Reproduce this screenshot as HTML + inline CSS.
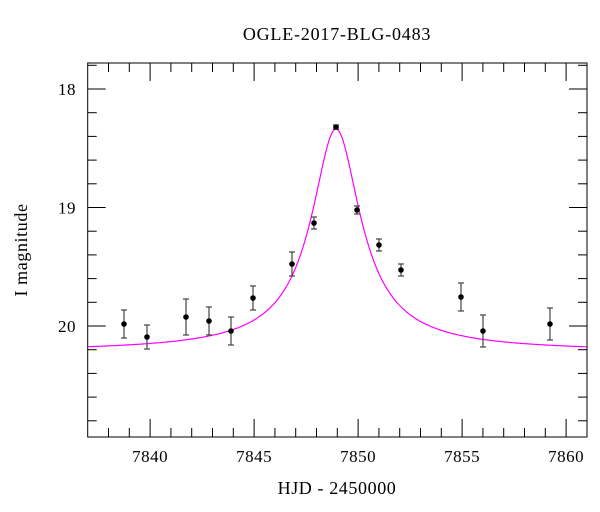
<!DOCTYPE html>
<html><head><style>
body{margin:0;background:#fff;}
svg{display:block;font-family:"Liberation Serif","DejaVu Serif",serif;}
</style></head><body>
<svg id="s" width="600" height="512" xmlns="http://www.w3.org/2000/svg">
<text x="337" y="40" font-size="18" letter-spacing="0.8" text-anchor="middle">OGLE-2017-BLG-0483</text>
<text x="337" y="494" font-size="18" letter-spacing="0.6" text-anchor="middle">HJD - 2450000</text>
<text transform="translate(27,250) rotate(-90)" font-size="18" letter-spacing="0.6" text-anchor="middle">I magnitude</text>
<g id="ax" stroke="#000" stroke-width="1" fill="none"></g>
<g id="lab" font-size="17" letter-spacing="0.5" text-anchor="middle"></g>
<path id="curve" fill="none" stroke="#ff00ff" stroke-width="1.2"/>
<g id="pts"></g>
</svg>
<script>
var L=87.7,R=587,T=63,B=437;
var ax=document.getElementById('ax'),lab=document.getElementById('lab');
function ln(x1,y1,x2,y2){return '<line x1="'+x1+'" y1="'+y1+'" x2="'+x2+'" y2="'+y2+'"/>';}
var h='<rect x="'+L+'" y="'+T+'" width="'+(R-L)+'" height="'+(B-T)+'"/>';
var lt='';
function X(d){return L+(d-7837)*20.8;}
for(var d=7838;d<=7860;d++){var x=X(d);var big=d%5==0;var len=big?18:9;
h+=ln(x,B,x,B-len)+ln(x,T,x,T+len);
if(big)lt+='<text x="'+x+'" y="462">'+d+'</text>';}
function Y(m){return 89+(m-18)*118.5;}
for(var i=-1;i<=15;i++){var m=18+i*0.2;var y=Y(m);if(y<T+1||y>B-1)continue;
var big=(i%5==0);var len=big?18:9;
h+=ln(L,y,L+len,y)+ln(R,y,R-len,y);
if(big)lt+='<text x="67" y="'+(y+6)+'">'+Math.round(m)+'</text>';}
ax.innerHTML=h;lab.innerHTML=lt;
var p='';
for(var x=L;x<=R;x+=1){var dt=x-336;var f=Math.pow(1+(dt/27.6)*(dt/27.6),-0.85);
var y=352-223*f;p+=(p?'L':'M')+x.toFixed(1)+' '+y.toFixed(1);}
document.getElementById('curve').setAttribute('d',p);
var pts=[[124,324,14],[147,337,12],[186,317,18],[209,321,14],[231,331,14],[253,298,12],[292,264,12],[314,223,6],[336,127,2],[357,210,4],[379,245,6],[401,270,6],[461,297,14],[483,331,16],[550,324,16]];
var g='';
pts.forEach(function(q){var x=q[0],y=q[1],e=q[2];
g+='<g stroke="#444" stroke-width="1.2">'+ln(x,y-e,x,y+e)+ln(x-3,y-e,x+3,y-e)+ln(x-3,y+e,x+3,y+e)+'</g>';
g+='<circle cx="'+x+'" cy="'+y+'" r="2.8" fill="#000"/>';});
document.getElementById('pts').innerHTML=g;
</script>
</body></html>
